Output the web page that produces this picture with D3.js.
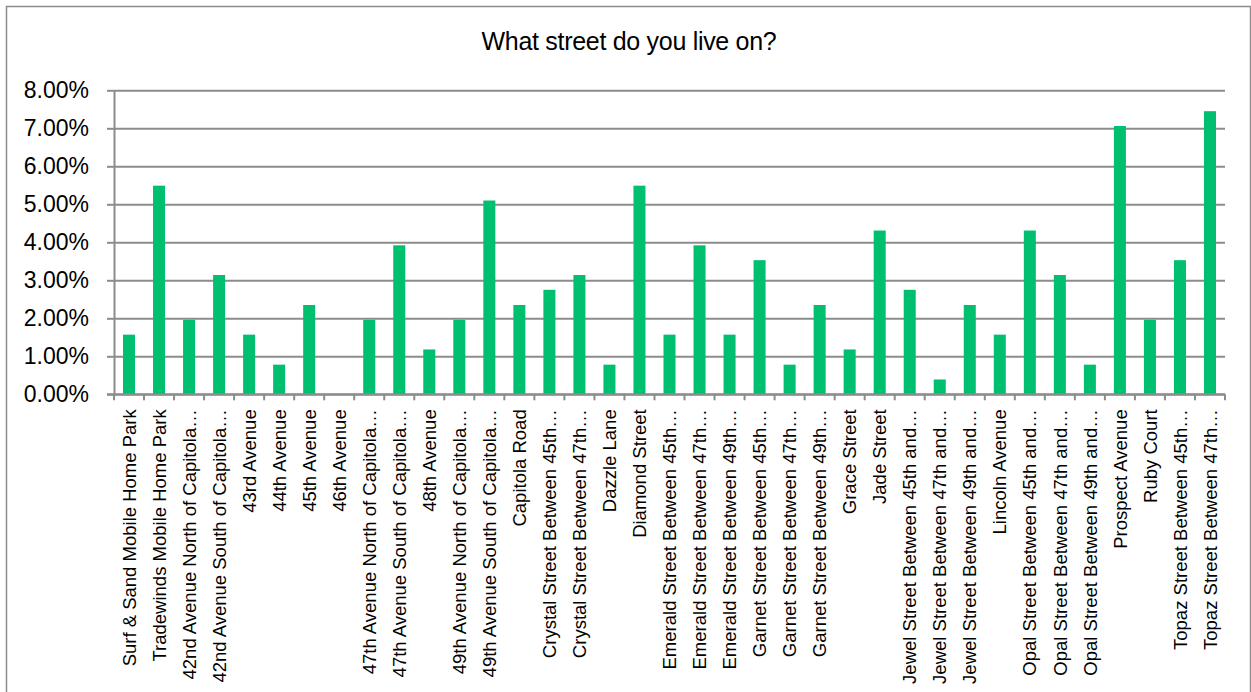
<!DOCTYPE html>
<html>
<head>
<meta charset="utf-8">
<style>
  body { margin: 0; background: #fff; }
  svg text { font-family: "Liberation Sans", Arial, sans-serif; fill: #000; }
  .grid line { stroke: #8c8c8c; stroke-width: 2px; }
  .grid .domain { display: none; }
  .yaxis .domain, .yaxis line { stroke: #8c8c8c; stroke-width: 2px; }
  .xaxis .domain { display: none; }
</style>
</head>
<body>
<svg width="1251" height="692"></svg>
<script src="https://cdn.jsdelivr.net/npm/d3@7"></script>
<script>

    var categories = [
        "Surf & Sand Mobile Home Park",
        "Tradewinds Mobile Home Park",
        "42nd Avenue North of Capitola…",
        "42nd Avenue South of Capitola…",
        "43rd Avenue",
        "44th Avenue",
        "45th Avenue",
        "46th Avenue",
        "47th Avenue North of Capitola…",
        "47th Avenue South of Capitola…",
        "48th Avenue",
        "49th Avenue North of Capitola…",
        "49th Avenue South of Capitola…",
        "Capitola Road",
        "Crystal Street Between 45th…",
        "Crystal Street Between 47th…",
        "Dazzle Lane",
        "Diamond Street",
        "Emerald Street Between 45th…",
        "Emerald Street Between 47th…",
        "Emerald Street Between 49th…",
        "Garnet Street Between 45th…",
        "Garnet Street Between 47th…",
        "Garnet Street Between 49th…",
        "Grace Street",
        "Jade Street",
        "Jewel Street Between 45th and…",
        "Jewel Street Between 47th and…",
        "Jewel Street Between 49th and…",
        "Lincoln Avenue",
        "Opal Street Between 45th and…",
        "Opal Street Between 47th and…",
        "Opal Street Between 49th and…",
        "Prospect Avenue",
        "Ruby Court",
        "Topaz Street Between 45th…",
        "Topaz Street Between 47th…"
    ];

    // percent of respondents
    var percents = [
        1.57, 5.49, 1.96, 3.14, 1.57, 0.78, 2.35, 0.00, 1.96, 3.92,
        1.18, 1.96, 5.10, 2.35, 2.75, 3.14, 0.78, 5.49, 1.57, 3.92,
        1.57, 3.53, 0.78, 2.35, 1.18, 4.31, 2.75, 0.39, 2.35, 1.57,
        4.31, 3.14, 0.78, 7.06, 1.96, 3.53, 7.45
    ];

    var yTicks = [0, 0.01, 0.02, 0.03, 0.04, 0.05, 0.06, 0.07, 0.08];

    var title = "What street do you live on?";

    var svg = d3.select("svg"),
        plotLeft = 114, plotRight = 1225, plotTop = 90.3, plotBottom = 394.3;

    // outer frame
    svg.append("rect")
        .attr("x", 6.5).attr("y", 6.5)
        .attr("width", 1244).attr("height", 720)
        .attr("fill", "none")
        .attr("stroke", "#8c8c8c")
        .attr("stroke-width", 1.5);

    svg.append("text")
        .attr("x", 629).attr("y", 50)
        .attr("text-anchor", "middle")
        .style("font-size", "25px")
        .style("letter-spacing", "-0.3px")
        .text(title);

    var x = d3.scaleBand()
        .domain(categories)
        .range([plotLeft, plotRight])
        .paddingInner(0.6)
        .paddingOuter(0.3);

    var y = d3.scaleLinear()
        .domain([0, 0.08])
        .range([plotBottom, plotTop]);

    // gridlines
    svg.append("g")
        .attr("class", "grid")
        .attr("transform", "translate(" + plotLeft + ",0)")
        .call(d3.axisLeft(y).tickValues(yTicks).tickSize(-(plotRight - plotLeft)).tickFormat(""));

    // y axis
    var yAxis = svg.append("g")
        .attr("class", "yaxis")
        .attr("transform", "translate(" + plotLeft + ",0)")
        .call(d3.axisLeft(y).tickValues(yTicks).tickSize(7).tickSizeOuter(0).tickPadding(18)
            .tickFormat(d3.format(".2%")));
    yAxis.selectAll("text").style("font-size", "23px");

    // bars
    svg.append("g")
      .selectAll("rect")
      .data(percents)
      .enter().append("rect")
        .attr("x", function(d, i) { return x(categories[i]); })
        .attr("width", x.bandwidth())
        .attr("y", function(d) { return y(d / 100); })
        .attr("height", function(d) { return plotBottom - y(d / 100); })
        .attr("fill", "#00bf6f");

    // x axis line + category ticks between bars
    svg.append("line")
        .attr("x1", plotLeft - 7).attr("x2", plotRight)
        .attr("y1", plotBottom).attr("y2", plotBottom)
        .attr("stroke", "#8c8c8c").attr("stroke-width", 2);

    svg.append("g")
      .selectAll("line")
      .data(d3.range(categories.length + 1))
      .enter().append("line")
        .attr("x1", function(i) { return plotLeft + i * x.step(); })
        .attr("x2", function(i) { return plotLeft + i * x.step(); })
        .attr("y1", plotBottom).attr("y2", plotBottom + 6)
        .attr("stroke", "#8c8c8c").attr("stroke-width", 2);

    var xAxis = svg.append("g")
        .attr("class", "xaxis")
        .attr("transform", "translate(0," + plotBottom + ")")
        .call(d3.axisBottom(x).tickSize(0).tickPadding(0));

    xAxis.selectAll("text")
        .style("font-size", "18.5px")
        .attr("text-anchor", "end")
        .attr("transform", "rotate(-90)")
        .attr("x", -15)
        .attr("y", 0)
        .attr("dy", "0.36em");

</script>
</body>
</html>
